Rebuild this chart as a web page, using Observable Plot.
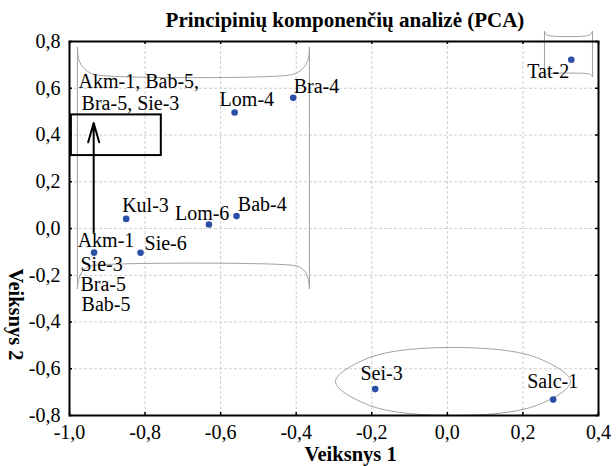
<!DOCTYPE html>
<html><head><meta charset="utf-8">
<script src="https://cdn.jsdelivr.net/npm/d3@7"></script>
<script src="https://cdn.jsdelivr.net/npm/@observablehq/plot@0.6"></script>
<style>body{margin:0;background:#fff}</style>
</head><body><div id="chart"></div>
<script>
// ---- data ----
const names = ["Tat-2","Bra-4","Lom-4","Kul-3","Lom-6","Bab-4","Akm-1","Sie-6","Sei-3","Salc-1"];
const xVals = [0.328,-0.408,-0.563,-0.850,-0.631,-0.558,-0.935,-0.812,-0.191,0.280];
const yVals = [0.722,0.559,0.496,0.041,0.017,0.053,-0.103,-0.104,-0.687,-0.732];
const xTicks = [-1.0,-0.8,-0.6,-0.4,-0.2,0.0,0.2,0.4];
const yTicks = [-0.8,-0.6,-0.4,-0.2,0.0,0.2,0.4,0.6,0.8];
const titleText = "Principinių komponenčių analizė (PCA)";
const xTitle = "Veiksnys 1";
const yTitle = "Veiksnys 2";
// group annotation texts
const noteText = ["Akm-1, Bab-5,","Bra-5, Sie-3","Sie-3","Bra-5","Bab-5"];
const noteX = [-0.976,-0.968,-0.971,-0.971,-0.968];
const noteY = [0.603,0.508,-0.183,-0.268,-0.351];
// annotation shapes (data units)
const bigBraceTop = [[-0.979,0.774],[-0.976,0.727],[-0.966,0.693],[-0.947,0.667],[-0.918,0.655],[-0.426,0.655],[-0.397,0.667],[-0.378,0.693],[-0.368,0.727],[-0.365,0.774]];
const bigBraceBottom = [[-0.979,-0.257],[-0.976,-0.218],[-0.968,-0.188],[-0.955,-0.167],[-0.936,-0.158],[-0.407,-0.158],[-0.389,-0.167],[-0.375,-0.188],[-0.368,-0.218],[-0.365,-0.257]];
const bigSideLeft = [[-0.979,0.774],[-0.979,-0.257]];
const bigSideRight = [[-0.365,0.774],[-0.365,-0.257]];
const tatBraceTop = [[0.257,0.843],[0.262,0.830],[0.273,0.824],[0.368,0.824],[0.379,0.830],[0.384,0.843]];
const tatBraceBottom = [[0.257,0.650],[0.262,0.659],[0.273,0.663],[0.368,0.663],[0.379,0.659],[0.384,0.650]];
const tatSideLeft = [[0.257,0.843],[0.257,0.650]];
const tatSideRight = [[0.384,0.843],[0.384,0.650]];
const ellipsePts = [[-0.296,-0.655],[-0.206,-0.552],[0.014,-0.509],[0.236,-0.552],[0.326,-0.655],[0.236,-0.757],[0.014,-0.800],[-0.206,-0.757]];
const boxRect = [-0.995,-0.757,0.312,0.486];
const arrowLine = [-0.936,-0.016,-0.936,0.451];

// ---- layout ----
const W = 616, H = 466, mt = 41, mr = 18, mb = 51, ml = 69;
const fw = W - ml - mr, fh = H - mt - mb;
const labelOffset = {"Tat-2":[-44,18],"Bra-4":[0.5,-4.6],"Lom-4":[-15,-7],"Kul-3":[-4,-6.6],"Lom-6":[-34,-4.7],"Bab-4":[1.3,-5],"Akm-1":[-16.4,-5.3],"Sie-6":[4,-3],"Sei-3":[-14.7,-8.7],"Salc-1":[-26,-11.7]};
const fmt = d => d.toFixed(1).replace(".", ",");
const points = names.map((n,i)=>({name:n,x:xVals[i],y:yVals[i]}));
const notes = noteText.map((t,i)=>({t,x:noteX[i],y:noteY[i]}));
const toRows = (arr,id) => arr.map(([x,y])=>({x,y,id}));
const shapeRows = [
  ...toRows(bigBraceTop,"a"),...toRows(bigBraceBottom,"b"),...toRows(bigSideLeft,"c"),...toRows(bigSideRight,"d"),
  ...toRows(tatBraceTop,"e"),...toRows(tatBraceBottom,"f"),...toRows(tatSideLeft,"g"),...toRows(tatSideRight,"h")
];
const ellRows = toRows(ellipsePts,"el");
const serif = "'Liberation Serif','Times New Roman',serif";

const chart = Plot.plot({
  width: W, height: H,
  marginTop: mt, marginRight: mr, marginBottom: mb, marginLeft: ml,
  style: {fontFamily: serif, fontSize: "20px", color: "black", background: "white", overflow: "visible"},
  x: {domain: [-1.0, 0.4], ticks: xTicks, tickFormat: fmt, tickSize: 0, tickPadding: 9, label: null},
  y: {domain: [-0.8, 0.8], ticks: yTicks, tickFormat: fmt, tickSize: 0, tickPadding: 9, label: null},
  marks: [
    Plot.ruleX(xTicks, {x: d=>d, stroke: "#cfcfcf", strokeDasharray: "3,2"}),
    Plot.ruleY(yTicks, {y: d=>d, stroke: "#cfcfcf", strokeDasharray: "3,2"}),
    Plot.line(shapeRows, {x: "x", y: "y", z: "id", curve: "catmull-rom", stroke: "#a0a0a0", strokeWidth: 1}),
    Plot.line(ellRows, {x: "x", y: "y", z: "id", curve: "catmull-rom-closed", stroke: "#a0a0a0", strokeWidth: 1}),
    Plot.rect([boxRect], {x1: d=>d[0], x2: d=>d[1], y1: d=>d[2], y2: d=>d[3], fill: "none", stroke: "black", strokeWidth: 2}),
    Plot.arrow([arrowLine], {x1: d=>d[0], y1: d=>d[1], x2: d=>d[2], y2: d=>d[3], stroke: "black", strokeWidth: 2, headLength: 15, headAngle: 32}),
    Plot.frame({stroke: "black", strokeWidth: 2}),
    Plot.tickX(xTicks, {x: d=>d, insetTop: fh-3, stroke: "black", strokeWidth: 1.5}),
    Plot.tickX(xTicks, {x: d=>d, insetBottom: fh-3, stroke: "black", strokeWidth: 1.5}),
    Plot.tickY(yTicks, {y: d=>d, insetRight: fw-3, stroke: "black", strokeWidth: 1.5}),
    Plot.tickY(yTicks, {y: d=>d, insetLeft: fw-3, stroke: "black", strokeWidth: 1.5}),
    Plot.dot(points, {x: "x", y: "y", r: 3.3, fill: "#2b4ea6", stroke: "none"}),
    ...points.map(p => Plot.text([p], {x: "x", y: "y", text: "name", textAnchor: "start", lineAnchor: "bottom",
        dx: labelOffset[p.name][0], dy: labelOffset[p.name][1], fontSize: 20, fill: "black"})),
    Plot.text(notes, {x: "x", y: "y", text: "t", textAnchor: "start", lineAnchor: "bottom", fontSize: 20, fill: "black"}),
    Plot.text([titleText], {x: -0.271, frameAnchor: "top", text: d=>d, textAnchor: "middle", lineAnchor: "bottom", dy: -14.3, fontSize: 21, fontWeight: "bold", fill: "black"}),
    Plot.text([xTitle], {x: -0.256, frameAnchor: "bottom", text: d=>d, textAnchor: "middle", lineAnchor: "bottom", dy: 45.7, fontSize: 20.5, fontWeight: "bold", fill: "black"}),
    Plot.text([yTitle], {y: -0.368, frameAnchor: "left", text: d=>d, textAnchor: "middle", rotate: 90, dx: -54, fontSize: 20.5, fontWeight: "bold", fill: "black"})
  ]
});
document.getElementById("chart").appendChild(chart);
</script>
</body></html>
